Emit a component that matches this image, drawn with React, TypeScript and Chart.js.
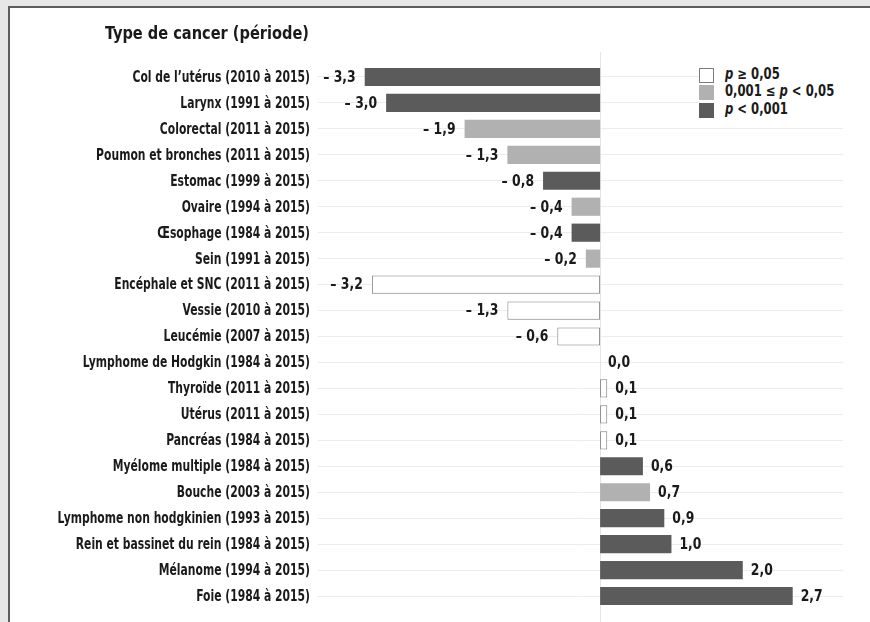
import React, { useEffect, useRef } from "react";
import { Chart, registerables } from "chart.js";

Chart.register(...registerables);

const categories: string[] = [
  "Col de l’utérus (2010 à 2015)",
  "Larynx (1991 à 2015)",
  "Colorectal (2011 à 2015)",
  "Poumon et bronches (2011 à 2015)",
  "Estomac (1999 à 2015)",
  "Ovaire (1994 à 2015)",
  "Œsophage (1984 à 2015)",
  "Sein (1991 à 2015)",
  "Encéphale et SNC (2011 à 2015)",
  "Vessie (2010 à 2015)",
  "Leucémie (2007 à 2015)",
  "Lymphome de Hodgkin (1984 à 2015)",
  "Thyroïde (2011 à 2015)",
  "Utérus (2011 à 2015)",
  "Pancréas (1984 à 2015)",
  "Myélome multiple (1984 à 2015)",
  "Bouche (2003 à 2015)",
  "Lymphome non hodgkinien (1993 à 2015)",
  "Rein et bassinet du rein (1984 à 2015)",
  "Mélanome (1994 à 2015)",
  "Foie (1984 à 2015)",
];

const values: number[] = [
  -3.3, -3.0, -1.9, -1.3, -0.8, -0.4, -0.4, -0.2, -3.2, -1.3, -0.6, 0.0, 0.1,
  0.1, 0.1, 0.6, 0.7, 0.9, 1.0, 2.0, 2.7,
];

// significance level: 0 = p ≥ 0,05 ; 1 = 0,001 ≤ p < 0,05 ; 2 = p < 0,001
const significance: number[] = [
  2, 2, 1, 1, 2, 1, 2, 1, 0, 0, 0, 0, 0, 0, 0, 2, 1, 2, 2, 2, 2,
];

const title = "Type de cancer (période)";

const FILL = ["#ffffff", "#b1b1b1", "#5a5b5a"];
const FONT = "'DejaVu Sans Condensed', 'DejaVu Sans', sans-serif";
const TEXT = "#1a1a1a";

function fmt(v: number): string {
  const s = Math.abs(v).toFixed(1).replace(".", ",");
  return v < 0 ? "– " + s : s;
}

function squeezedText(
  ctx: CanvasRenderingContext2D,
  text: string,
  x: number,
  y: number,
  sx: number,
  align: CanvasTextAlign
) {
  ctx.save();
  ctx.translate(x, y);
  ctx.scale(sx, 1);
  ctx.textAlign = align;
  ctx.fillText(text, 0, 0);
  ctx.restore();
}

export default function App() {
  const ref = useRef<HTMLCanvasElement | null>(null);

  useEffect(() => {
    if (!ref.current) return;
    const extras = {
      id: "extras",
      beforeDatasetsDraw(chart: any) {
        const ctx = chart.ctx;
        const x0 = chart.scales.x.getPixelForValue(0);
        ctx.save();
        ctx.strokeStyle = "#e4e4e4";
        ctx.lineWidth = 1;
        ctx.beginPath();
        ctx.moveTo(Math.round(x0) + 0.5, 52);
        ctx.lineTo(Math.round(x0) + 0.5, chart.height);
        ctx.stroke();
        ctx.restore();
      },
      afterDatasetsDraw(chart: any) {
        const ctx = chart.ctx;
        const meta = chart.getDatasetMeta(0);
        const yScale = chart.scales.y;
        ctx.save();
        ctx.fillStyle = TEXT;
        ctx.textBaseline = "middle";
        // category labels (y axis ticks), condensed
        ctx.font = "bold 15px " + FONT;
        yScale.ticks.forEach((t: any, i: number) => {
          const y = yScale.getPixelForTick(i);
          squeezedText(ctx, String(categories[t.value] ?? t.label), yScale.right - 8, y + 1, 0.8, "right");
        });
        // value labels
        ctx.font = "bold 15px " + FONT;
        meta.data.forEach((el: any, i: number) => {
          const v = values[i];
          if (v < 0) {
            squeezedText(ctx, fmt(v), el.x - 9, el.y + 1, 0.92, "right");
          } else {
            squeezedText(ctx, fmt(v), el.x + 8, el.y + 1, 0.92, "left");
          }
        });
        // title
        ctx.font = "bold 18px " + FONT;
        squeezedText(ctx, title, yScale.right - 9, 34, 0.9, "right");
        ctx.restore();
      },
    };

    const chart = new Chart(ref.current, {
      type: "bar",
      data: {
        labels: categories,
        datasets: [
          {
            data: values.map((v) => (v === 0 ? null : v)),
            backgroundColor: significance.map((s) => FILL[s]),
            borderColor: significance.map((s) => (s === 0 ? "#7c7c7c" : FILL[s])),
            borderWidth: significance.map((s) => (s === 0 ? 1 : 0)),
            borderSkipped: false,
            categoryPercentage: 1,
            barPercentage: 0.7,
          },
        ],
      },
      options: {
        indexAxis: "y",
        animation: false,
        responsive: false,
        maintainAspectRatio: false,
        layout: { padding: { left: 0, right: 27, top: 64, bottom: 13 } },
        plugins: {
          legend: { display: false },
          tooltip: { enabled: false },
          title: { display: false },
        },
        scales: {
          x: {
            display: false,
            min: -3.955,
            max: 3.405,
          },
          y: {
            afterFit: (s: any) => {
              s.width = 318;
            },
            border: { display: false },
            grid: {
              offset: false,
              color: "#ececec",
              drawTicks: false,
              lineWidth: 1,
            },
            ticks: {
              display: false,
              autoSkip: false,
            },
          },
        },
      },
      plugins: [extras],
    });
    return () => chart.destroy();
  }, []);

  const sq = (bg: string, border: string): React.CSSProperties => ({
    position: "absolute",
    left: 0,
    width: 13,
    height: 13,
    background: bg,
    border: `1px solid ${border}`,
  });
  const row: React.CSSProperties = {
    position: "absolute",
    left: 26,
    whiteSpace: "nowrap",
    lineHeight: "18px",
    transform: "scaleX(0.86)",
    transformOrigin: "0 50%",
  };

  return (
    <div
      style={{
        position: "fixed",
        left: 0,
        top: 0,
        width: 870,
        height: 622,
        background: "#e6e7e6",
        overflow: "hidden",
      }}
    >
      <div
        style={{
          position: "absolute",
          left: 8,
          top: 6,
          width: 900,
          height: 700,
          background: "#ffffff",
          borderLeft: "2px solid #5b5c5b",
          borderTop: "2px solid #5b5c5b",
        }}
      />
      <canvas
        ref={ref}
        width={870}
        height={622}
        style={{ position: "absolute", left: 0, top: 0, width: 870, height: 622 }}
      />
      <div
        style={{
          position: "absolute",
          left: 699,
          top: 62,
          width: 150,
          height: 60,
          background: "#ffffff",
          fontFamily: FONT,
          fontWeight: "bold",
          fontSize: 15,
          color: TEXT,
        }}
      >
        <div style={{ ...sq("#ffffff", "#7c7c7c"), top: 6 }} />
        <div style={{ ...row, top: 3 }}>
          <i>p</i> ≥ 0,05
        </div>
        <div style={{ ...sq("#b1b1b1", "#b1b1b1"), top: 23 }} />
        <div style={{ ...row, top: 20 }}>
          0,001 ≤ <i>p</i> &lt; 0,05
        </div>
        <div style={{ ...sq("#5a5b5a", "#5a5b5a"), top: 41 }} />
        <div style={{ ...row, top: 38 }}>
          <i>p</i> &lt; 0,001
        </div>
      </div>
    </div>
  );
}
